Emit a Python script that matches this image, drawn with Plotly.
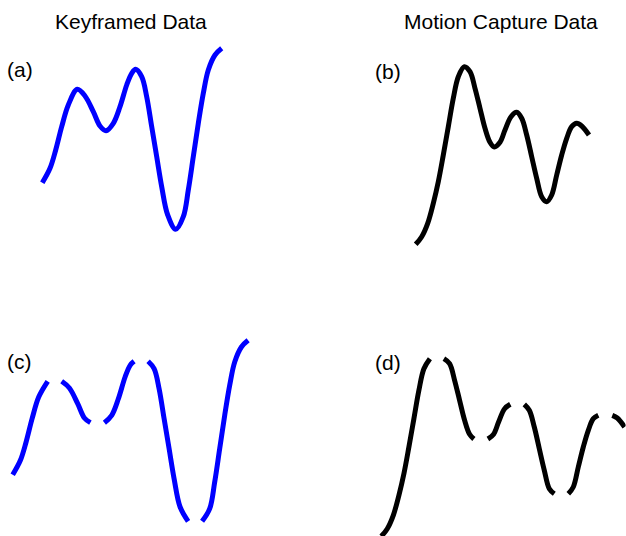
import plotly.graph_objects as go

# ---------------- data ----------------
# Keyframed curve: frame / value
kf_time = [7.3, 15.0, 20.7, 26.7, 33.3, 42.3, 50.0, 58.3, 65.0, 71.0, 78.3, 85.0, 91.7, 96.7,
           100.7, 106.7, 111.7, 116.7, 121.7, 126.7, 132.7, 140.7, 148.3, 153.3, 158.3, 163.3,
           168.3, 173.3, 180.0, 186.7]
kf_value = [57.3, 71.7, 90.0, 113.3, 135.0, 150.7, 144.0, 128.3, 114.0, 109.3, 116.7, 133.3, 155.0, 166.7,
            170.7, 163.3, 143.3, 113.3, 83.3, 53.3, 25.0, 10.7, 23.3, 50.0, 83.3, 116.7,
            146.7, 170.0, 185.0, 191.7]

# Motion capture curve: frame / value
mc_time = [10.7, 16.7, 22.7, 28.3, 33.3, 38.3, 43.3, 48.3, 53.3, 59.3, 65.0, 70.0, 75.0, 80.0,
           85.0, 89.3, 95.0, 100.0, 106.0, 111.7, 116.7, 121.7, 126.7, 131.7, 136.7, 141.7,
           146.7, 151.7, 156.7, 161.7, 166.7, 171.7, 176.7, 184.0]
mc_value = [10.7, 18.3, 31.7, 51.7, 73.3, 100.0, 128.3, 156.7, 178.3, 188.3, 183.3, 166.7, 146.7, 126.7,
            112.7, 108.0, 112.7, 125.0, 138.3, 142.7, 136.7, 120.0, 98.3, 76.7, 58.3, 53.3,
            60.0, 80.0, 100.0, 116.7, 128.3, 131.7, 129.0, 120.0]

split_gap = 14.0  # frames inserted at each extremum in the split panels

col_titles = ["Keyframed Data", "Motion Capture Data"]
panel_labels = ["(a)", "(b)", "(c)", "(d)"]

# ---------------- helpers ----------------
W, H = 626, 536


def xdom(px0, px1):
    return [px0 / W, px1 / W]


def ydom(py_top, py_bot):
    return [max(0.0, 1 - py_bot / H), min(1.0, 1 - py_top / H)]


def extrema(vals):
    idx = []
    for i in range(1, len(vals) - 1):
        if (vals[i] - vals[i - 1]) * (vals[i + 1] - vals[i]) < 0:
            idx.append(i)
    return idx


def split_series(t, v, gap):
    ex = extrema(v)
    bounds = [0] + ex + [len(t) - 1]
    xs, ys = [], []
    for k in range(len(bounds) - 1):
        a, b = bounds[k], bounds[k + 1]
        if k > 0:
            xs.append(None)
            ys.append(None)
        xs += [t[i] + gap * k for i in range(a, b + 1)]
        ys += [v[i] for i in range(a, b + 1)]
    return xs, ys


fig = go.Figure()

BLUE = "#0000ff"
BLACK = "#000000"
LW = 5

# panel a
fig.add_trace(go.Scatter(x=kf_time, y=kf_value, mode="lines", xaxis="x", yaxis="y",
                         line=dict(color=BLUE, width=LW, shape="spline", smoothing=1.0)))
# panel b
fig.add_trace(go.Scatter(x=mc_time, y=mc_value, mode="lines", xaxis="x2", yaxis="y2",
                         line=dict(color=BLACK, width=LW, shape="spline", smoothing=1.0)))
# panel c
cx, cy = split_series(kf_time, kf_value, split_gap)
fig.add_trace(go.Scatter(x=cx, y=cy, mode="lines", xaxis="x3", yaxis="y3", connectgaps=False,
                         line=dict(color=BLUE, width=LW, shape="spline", smoothing=1.0)))
# panel d
dx, dy = split_series(mc_time, mc_value, split_gap)
fig.add_trace(go.Scatter(x=dx, y=dy, mode="lines", xaxis="x4", yaxis="y4", connectgaps=False,
                         line=dict(color=BLACK, width=LW, shape="spline", smoothing=1.0)))

hid = dict(visible=False, showgrid=False, zeroline=False, fixedrange=True)

fig.update_layout(
    width=W, height=H,
    margin=dict(l=0, r=0, t=0, b=0),
    paper_bgcolor="white", plot_bgcolor="rgba(0,0,0,0)",
    showlegend=False,
    xaxis=dict(domain=xdom(35, 230), range=[0, 195], anchor="y", **hid),
    yaxis=dict(domain=ydom(40, 240), range=[0, 200], anchor="x", **hid),
    xaxis2=dict(domain=xdom(405, 600), range=[0, 195], anchor="y2", **hid),
    yaxis2=dict(domain=ydom(55, 255), range=[0, 200], anchor="x2", **hid),
    xaxis3=dict(domain=xdom(5.4, 265.4), range=[0, 260], anchor="y3", **hid),
    yaxis3=dict(domain=ydom(332, 532), range=[0, 200], anchor="x3", **hid),
    xaxis4=dict(domain=xdom(370.6, 625.6), range=[0, 255], anchor="y4", **hid),
    yaxis4=dict(domain=ydom(347, 536), range=[11, 200], anchor="x4", **hid),
)

FONT = dict(family="Liberation Sans, Arial, sans-serif", size=21, color="black")


def add_text(text, px, py):
    fig.add_annotation(text=text, x=px / W, y=1 - py / H, xref="paper", yref="paper",
                       xanchor="center", yanchor="middle", showarrow=False, font=FONT)


add_text(col_titles[0], 131, 21)
add_text(col_titles[1], 501, 21)
add_text(panel_labels[0], 20, 69)
add_text(panel_labels[1], 388, 71)
add_text(panel_labels[2], 19, 361)
add_text(panel_labels[3], 388, 362)

fig.write_html(
    "out.html",
    config={"displayModeBar": False},
    post_script="document.body.style.margin='0';document.body.style.overflow='hidden';",
)
